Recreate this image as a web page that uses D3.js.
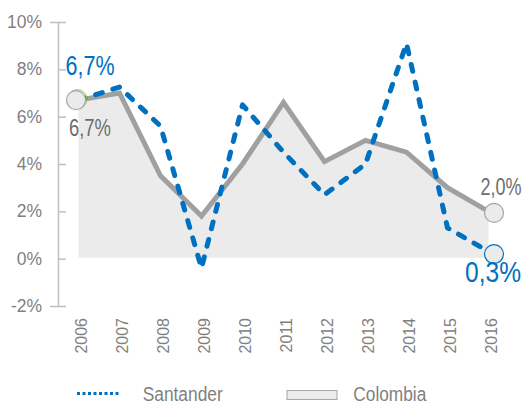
<!DOCTYPE html>
<html>
<head>
<meta charset="utf-8">
<script src="https://cdn.jsdelivr.net/npm/d3@7"></script>
<style>
  html, body { margin: 0; padding: 0; background: #ffffff; }
  svg { display: block; }
</style>
</head>
<body>
<svg id="chart" width="523" height="403"></svg>
<script>
// ---- data ----
const years = ["2006","2007","2008","2009","2010","2011","2012","2013","2014","2015","2016"];
const santander = [6.7, 7.25, 5.6, -0.4, 6.5, 4.5, 2.7, 4.0, 9.1, 1.3, 0.3];
const colombia  = [6.7, 7.0, 3.5, 1.8, 4.0, 6.6, 4.1, 5.0, 4.5, 3.0, 2.0];
const yTicks = [-2, 0, 2, 4, 6, 8, 10];
const seriesNames = ["Santander", "Colombia"];
const endLabels = {santanderFirst: "6,7%", colombiaFirst: "6,7%", colombiaLast: "2,0%", santanderLast: "0,3%"};

// ---- styles ----
const BLUE = "#0070C0";
const GREY_LINE = "#A0A0A0";
const AREA = "#EBEBEB";
const TEXT = "#7F7F7F";
const AXIS = "#BFBFBF";
const REG = "'Liberation Sans', Arial, sans-serif";

const svg = d3.select("#chart");

const x = d3.scalePoint().domain(years).range([78.5, 488.5]);
const y = d3.scaleLinear().domain([-2, 10]).range([306, 22]);

// narrow text helper (condensed look)
function narrowText(sel, len) {
  return sel.attr("font-family", REG).attr("textLength", len).attr("lengthAdjust", "spacingAndGlyphs");
}

// y axis
const yAxis = d3.axisLeft(y).tickValues(yTicks).tickFormat(d => d + "%").tickSize(8).tickPadding(8);
const gy = svg.append("g").attr("transform", "translate(58,0)").call(yAxis);
gy.select(".domain").attr("stroke", AXIS).attr("stroke-width", 1.5);
gy.selectAll(".tick line").attr("stroke", AXIS).attr("stroke-width", 1.5).attr("x2", 8);
gy.selectAll(".tick text").attr("fill", TEXT).attr("font-family", REG).attr("font-size", 17.5).attr("x", -16);

// x labels (rotated)
const gx = svg.append("g");
gx.selectAll("text").data(years).join("text")
  .attr("transform", d => `translate(${x(d) + 3},318) rotate(-90)`)
  .attr("text-anchor", "end")
  .attr("dy", "0.35em")
  .attr("fill", TEXT)
  .attr("font-family", REG)
  .attr("font-size", 16)
  .text(d => d);

// Colombia area
const colData = years.map((d, i) => ({year: d, v: colombia[i]}));
const santData = years.map((d, i) => ({year: d, v: santander[i]}));

svg.append("path").datum(colData)
  .attr("fill", AREA)
  .attr("d", d3.area().x(d => x(d.year)).y0(y(0) - 1).y1(d => y(d.v)));

svg.append("path").datum(colData)
  .attr("fill", "none").attr("stroke", GREY_LINE).attr("stroke-width", 5)
  .attr("stroke-linejoin", "miter")
  .attr("d", d3.line().x(d => x(d.year)).y(d => y(d.v)));

svg.append("path").datum(santData)
  .attr("fill", "none").attr("stroke", BLUE).attr("stroke-width", 5)
  .attr("stroke-dasharray", "7,11").attr("stroke-linecap", "round")
  .attr("stroke-linejoin", "round")
  .attr("d", d3.line().x(d => x(d.year)).y(d => y(d.v)));

// markers
const first = 0, last = years.length - 1;
svg.append("circle").attr("cx", x(years[first]) - 1).attr("cy", y(santander[first]) - 1).attr("r", 9.5)
  .attr("fill", "none").attr("stroke", "#92D050").attr("stroke-width", 1);
svg.append("circle").attr("cx", x(years[first]) - 2.5).attr("cy", y(colombia[first])).attr("r", 9.5)
  .attr("fill", AREA).attr("stroke", "#A6A6A6").attr("stroke-width", 1.2);
svg.append("circle").attr("cx", x(years[last]) + 5.5).attr("cy", y(colombia[last]) + 1.5).attr("r", 9.5)
  .attr("fill", AREA).attr("stroke", "#A6A6A6").attr("stroke-width", 1.2);
svg.append("circle").attr("cx", x(years[last]) + 5.5).attr("cy", y(santander[last]) + 2.5).attr("r", 9.5)
  .attr("fill", AREA).attr("stroke", BLUE).attr("stroke-width", 1.2);

// data labels
narrowText(svg.append("text").attr("x", x(years[first]) - 13).attr("y", y(santander[first]) - 25)
  .attr("fill", BLUE).attr("font-size", 27), 49).text(endLabels.santanderFirst);
narrowText(svg.append("text").attr("x", x(years[first]) - 9.5).attr("y", y(colombia[first]) + 36)
  .attr("fill", "#6E6E6E").attr("font-size", 24.5), 42).text(endLabels.colombiaFirst);
narrowText(svg.append("text").attr("x", x(years[last]) - 8).attr("y", y(colombia[last]) - 16)
  .attr("fill", "#6E6E6E").attr("font-size", 23.5), 41).text(endLabels.colombiaLast);
narrowText(svg.append("text").attr("x", x(years[last]) - 23.5).attr("y", y(santander[last]) + 30.5)
  .attr("fill", BLUE).attr("font-size", 30), 56).text(endLabels.santanderLast);

// legend
const lg = svg.append("g");
lg.append("line").attr("x1", 77).attr("x2", 121).attr("y1", 393.5).attr("y2", 393.5)
  .attr("stroke", BLUE).attr("stroke-width", 3).attr("stroke-dasharray", "3,2.5");
narrowText(lg.append("text").attr("x", 142.7).attr("y", 401).attr("fill", TEXT)
  .attr("font-size", 20), 80).text(seriesNames[0]);
lg.append("rect").attr("x", 287).attr("y", 390.5).attr("width", 50).attr("height", 9)
  .attr("fill", AREA).attr("stroke", "#A6A6A6").attr("stroke-width", 1);
narrowText(lg.append("text").attr("x", 353.3).attr("y", 401).attr("fill", TEXT)
  .attr("font-size", 20), 73).text(seriesNames[1]);
</script>
</body>
</html>
